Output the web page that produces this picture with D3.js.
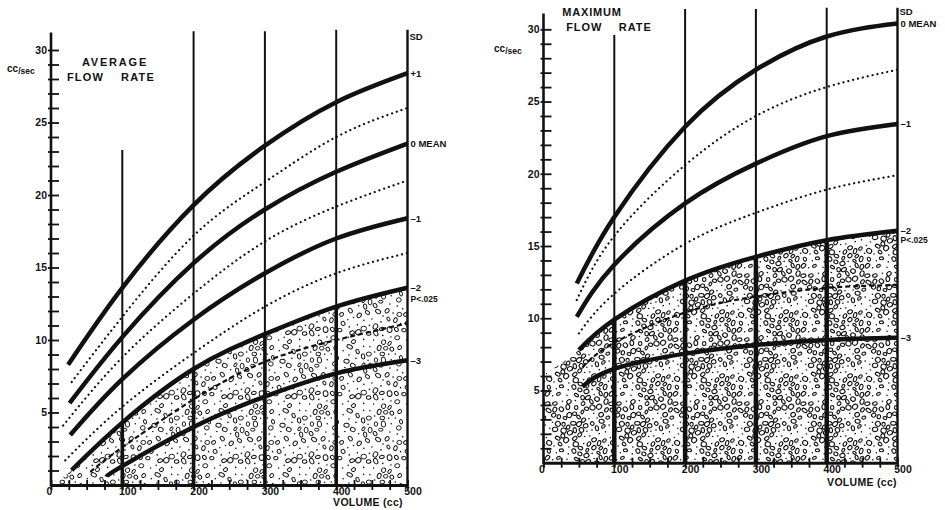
<!DOCTYPE html>
<html><head><meta charset="utf-8">
<script src="https://cdn.jsdelivr.net/npm/d3@7"></script>
<style>
html,body{margin:0;padding:0;background:#fff;}
svg text{font-family:"Liberation Sans",Arial,sans-serif;font-weight:bold;fill:#111;}
</style></head><body>
<svg id="chart" width="945" height="510"></svg>
<script>
// ---------- DATA ----------
const volumes = [100, 200, 300, 400, 500];
const xTickValues = d3.range(0, 501, 25);
const xTickLabels = [0, 100, 200, 300, 400, 500];
const yTickValues = d3.range(1, 31, 1);
const yTickLabels = [5, 10, 15, 20, 25, 30];

// Average flow rate (cc/sec); SD levels +1 ... -3
const avgSD = ["+1", "+0.5", "0", "-0.5", "-1", "-1.5", "-2", "-2.5", "-3"];
const avgStartVol  = [24, 29, 26, 17, 27, 20, 29, 55, 78];
const avgStartRate = [8.3, 7.1, 5.65, 4.1, 3.45, 1.7, 1.03, 0.9, 0.57];
const avgP1  = [13.6, 19.3, 23.4, 26.4, 28.4];
const avgP05 = [11.6, 17.2, 20.9, 24.0, 26.0];
const avgM0  = [10.2, 15.3, 19.0, 21.6, 23.55];
const avgN05 = [8.8, 13.2, 16.8, 19.2, 21.0];
const avgN1  = [7.3, 11.4, 14.6, 17.0, 18.4];
const avgN15 = [5.4, 9.1, 12.3, 14.6, 16.0];
const avgN2  = [4.3, 8.0, 10.4, 12.3, 13.6];
const avgN25 = [2.6, 5.9, 8.5, 10.0, 11.15];
const avgN3  = [1.3, 4.0, 6.1, 7.7, 8.6];
const avgShadeStart = [5, 0.3];
const avgGridTop = [23.1, 31.3, 31.3, 31.4, 31.4];
const avgAxisTop = 31.2;

// Maximum flow rate (cc/sec); SD levels 0 ... -3
const maxSD = ["0", "-0.5", "-1", "-1.5", "-2", "-2.5", "-3"];
const maxStartVol  = [47, 47, 47, 50, 50, 55, 55];
const maxStartRate = [12.4, 11.26, 10.1, 8.95, 7.8, 6.6, 5.26];
const maxM0  = [17.0, 23.25, 27.2, 29.5, 30.4];
const maxN05 = [15.7, 20.6, 24.0, 26.0, 27.2];
const maxN1  = [13.7, 17.95, 20.7, 22.6, 23.45];
const maxN15 = [11.7, 15.15, 17.3, 18.9, 19.9];
const maxN2  = [9.9, 12.6, 14.25, 15.4, 16.05];
const maxN25 = [8.3, 10.4, 11.5, 12.1, 12.3];
const maxN3  = [6.5, 7.55, 8.15, 8.5, 8.65];
const maxShadeStart = [0, 6.07];
const maxGridTop = [29.6, 31.4, 31.4, 31.5, 31.5];
const maxAxisTop = 31.1;

const avgSDLabels = [["+1", 28.4], ["0 MEAN", 23.55], ["\u20131", 18.4], ["\u20132", 13.6], ["\u20133", 8.6]];
const maxSDLabels = [["0 MEAN", 30.4], ["\u20131", 23.45], ["\u20132", 16.05], ["\u20133", 8.65]];

// ---------- DRAWING ----------
const svg = d3.select("#chart");
const defs = svg.append("defs");

function seeded(seed){ let s = seed >>> 0; return () => { s = (Math.imul(s, 1664525) + 1013904223) >>> 0; return s / 4294967296; }; }

function makeStipple(id, size, n, minD, sw, rMin, rMax, dotFrac, seed){
  const rnd = seeded(seed);
  const p = defs.append("pattern").attr("id", id).attr("patternUnits", "userSpaceOnUse")
    .attr("width", size).attr("height", size);
  p.append("rect").attr("width", size).attr("height", size).attr("fill", "#fff");
  const pts = [];
  let tries = 0;
  while (pts.length < n && tries < 20000){
    tries++;
    const x = rnd()*size, y = rnd()*size;
    const ok = pts.every(q => { let dx = Math.abs(q[0]-x), dy = Math.abs(q[1]-y); dx = Math.min(dx, size-dx); dy = Math.min(dy, size-dy); return dx*dx+dy*dy >= minD*minD; });
    if (ok) pts.push([x, y]);
  }
  pts.forEach(([x, y]) => {
    const isDot = rnd() < dotFrac;
    const rx = rMin + rnd()*(rMax-rMin), ry = rx*(0.6 + rnd()*0.35), rot = rnd()*180;
    for (const ox of [-size, 0, size]) for (const oy of [-size, 0, size]){
      const cx = x+ox, cy = y+oy;
      if (cx < -6 || cx > size+6 || cy < -6 || cy > size+6) continue;
      if (isDot){
        p.append("circle").attr("cx", cx).attr("cy", cy).attr("r", 0.8).attr("fill", "#111");
      } else {
        p.append("ellipse").attr("cx", cx).attr("cy", cy).attr("rx", rx).attr("ry", ry)
          .attr("transform", `rotate(${rot} ${cx} ${cy})`)
          .attr("fill", "none").attr("stroke", "#111").attr("stroke-width", sw);
      }
    }
  });
}
makeStipple("stipA", 64, 85, 6.0, 0.95, 2.0, 3.0, 0.4, 7);
makeStipple("stipM", 64, 110, 5.2, 1.1, 1.9, 2.8, 0.3, 11);

function drawPanel(cfg){
  const g = svg.append("g");
  const x = cfg.x, y = cfg.y;
  const curves = cfg.curves.map((vals, i) => ({
    sd: cfg.sd[i],
    pts: [[cfg.startVol[i], cfg.startRate[i]]].concat(volumes.map((v, j) => [v, vals[j]]))
  }));
  const line = d3.line().x(d => x(d[0])).y(d => y(d[1])).curve(d3.curveNatural);

  // stippled region (below -2 SD)
  const n2 = curves.find(c => c.sd === "-2");
  const shadePts = [cfg.shadeStart].concat(n2.pts);
  g.append("path").datum(shadePts)
    .attr("d", d3.area().x(d => x(d[0])).y0(y(0)).y1(d => y(d[1])).curve(d3.curveNatural))
    .attr("fill", `url(#${cfg.pattern})`);

  // vertical grid lines
  volumes.forEach((v, i) => {
    g.append("line").attr("x1", x(v)).attr("x2", x(v)).attr("y1", y(0)).attr("y2", y(cfg.gridTop[i]))
      .attr("stroke", "#111").attr("stroke-width", i === 4 ? 2.4 : 2);
    if (i < 4){
      g.append("line").attr("x1", x(v)).attr("x2", x(v)).attr("y1", y(0)).attr("y2", y(n2.pts[i+1][1]))
        .attr("stroke", "#111").attr("stroke-width", cfg.thickGrid);
    }
  });

  // curves
  curves.forEach(c => {
    const v = +c.sd;
    const half = Math.abs(v*2) % 2 === 1;
    const p = g.append("path").datum(c.pts).attr("d", line).attr("fill", "none").attr("stroke", "#111");
    if (!half){
      p.attr("stroke-width", 4.5);
    } else if (v === -2.5){
      p.attr("stroke-width", 2.2).attr("stroke-dasharray", "5,3");
    } else {
      p.attr("stroke-width", 2.2).attr("stroke-dasharray", "0.1,4.9").attr("stroke-linecap", "round");
    }
  });

  // x axis
  const xAxis = d3.axisBottom(x).tickValues(xTickValues).tickSizeInner(5).tickSizeOuter(0).tickPadding(1)
    .tickFormat(d => xTickLabels.includes(d) ? d : "");
  const gx = g.append("g").attr("transform", `translate(0,${y(0)})`).call(xAxis);
  gx.select(".domain").attr("stroke-width", 3).attr("stroke", "#111");
  gx.selectAll(".tick line").attr("y1", -5).attr("stroke-width", 1.8).attr("stroke", "#111");
  gx.selectAll(".tick text").attr("font-size", 10.5).attr("y", 2.5).attr("dx", d => d === 0 ? -2 : 5)
    .attr("font-family", "Liberation Sans, Arial, sans-serif").attr("font-weight", "bold").attr("fill", "#111");

  // y axis
  const yAxis = d3.axisLeft(y).tickValues(yTickValues).tickSizeInner(-8).tickSizeOuter(0).tickPadding(4)
    .tickFormat(d => yTickLabels.includes(d) ? d : "");
  const gy = g.append("g").attr("transform", `translate(${x(0)},0)`).call(yAxis);
  gy.select(".domain").remove();
  gy.selectAll(".tick line").attr("x1", -3).attr("stroke-width", 1.8).attr("stroke", "#111");
  gy.selectAll(".tick text").attr("font-size", 10.5)
    .attr("font-family", "Liberation Sans, Arial, sans-serif").attr("font-weight", "bold").attr("fill", "#111");
  g.append("line").attr("x1", x(0)).attr("x2", x(0)).attr("y1", y(0)+1.5).attr("y2", y(cfg.axisTop))
    .attr("stroke", "#111").attr("stroke-width", 2.6);

  // SD labels on right
  const sdx = x(500) + 3;
  g.append("text").attr("x", sdx - 1).attr("y", y(cfg.sdTitleY)).attr("dy", "0.35em")
    .attr("font-size", 9.5).text("SD");
  cfg.sdLabels.forEach(([t, v]) => {
    g.append("text").attr("x", sdx).attr("y", y(v)).attr("dy", "0.35em").attr("font-size", 9.5).text(t);
    if (t === "\u20132"){
      g.append("text").attr("x", sdx).attr("y", y(v) + cfg.pOffset).attr("dy", "0.35em")
        .attr("font-size", 8.5).text("P<.025");
    }
  });

  // titles
  cfg.title.forEach(([t, cx, cy, ls]) => {
    g.append("text").attr("x", cx).attr("y", cy).attr("dy", "0.35em").attr("text-anchor", "middle")
      .attr("font-size", 11).attr("letter-spacing", ls).attr("xml:space", "preserve").style("white-space", "pre").text(t);
  });
  const u = g.append("text").attr("x", cfg.unit[0]).attr("y", cfg.unit[1]).attr("dy", "0.35em").attr("font-size", 10);
  u.append("tspan").text("cc");
  u.append("tspan").attr("font-size", 8.5).attr("dy", 2).text("/sec");

  g.append("text").attr("x", cfg.volLabel[0]).attr("y", cfg.volLabel[1]).attr("dy", "0.35em")
    .attr("text-anchor", "middle").attr("font-size", 10.5).attr("letter-spacing", 0.3).text("VOLUME (cc)");
}

drawPanel({
  x: d3.scaleLinear().domain([0, 500]).range([51, 407.5]),
  y: d3.scaleLinear().domain([0, 30]).range([485, 50]),
  sd: avgSD, startVol: avgStartVol, startRate: avgStartRate,
  curves: [avgP1, avgP05, avgM0, avgN05, avgN1, avgN15, avgN2, avgN25, avgN3],
  shadeStart: avgShadeStart, gridTop: avgGridTop, axisTop: avgAxisTop,
  pattern: "stipA", thickGrid: 3.6,
  sdLabels: avgSDLabels, sdTitleY: 30.9, pOffset: 11,
  title: [["AVERAGE", 115, 62, 1.8], ["FLOW    RATE", 111, 77, 1.2]],
  unit: [7, 68], volLabel: [368, 502]
});

drawPanel({
  x: d3.scaleLinear().domain([0, 500]).range([543.5, 897.5]),
  y: d3.scaleLinear().domain([0, 30]).range([462.7, 29.3]),
  sd: maxSD, startVol: maxStartVol, startRate: maxStartRate,
  curves: [maxM0, maxN05, maxN1, maxN15, maxN2, maxN25, maxN3],
  shadeStart: maxShadeStart, gridTop: maxGridTop, axisTop: maxAxisTop,
  pattern: "stipM", thickGrid: 4.5,
  sdLabels: maxSDLabels, sdTitleY: 31.2, pOffset: 9,
  title: [["MAXIMUM", 592, 12, 0.8], ["FLOW    RATE", 609, 27, 1.0]],
  unit: [494, 48], volLabel: [862, 482]
});
</script></body></html>
